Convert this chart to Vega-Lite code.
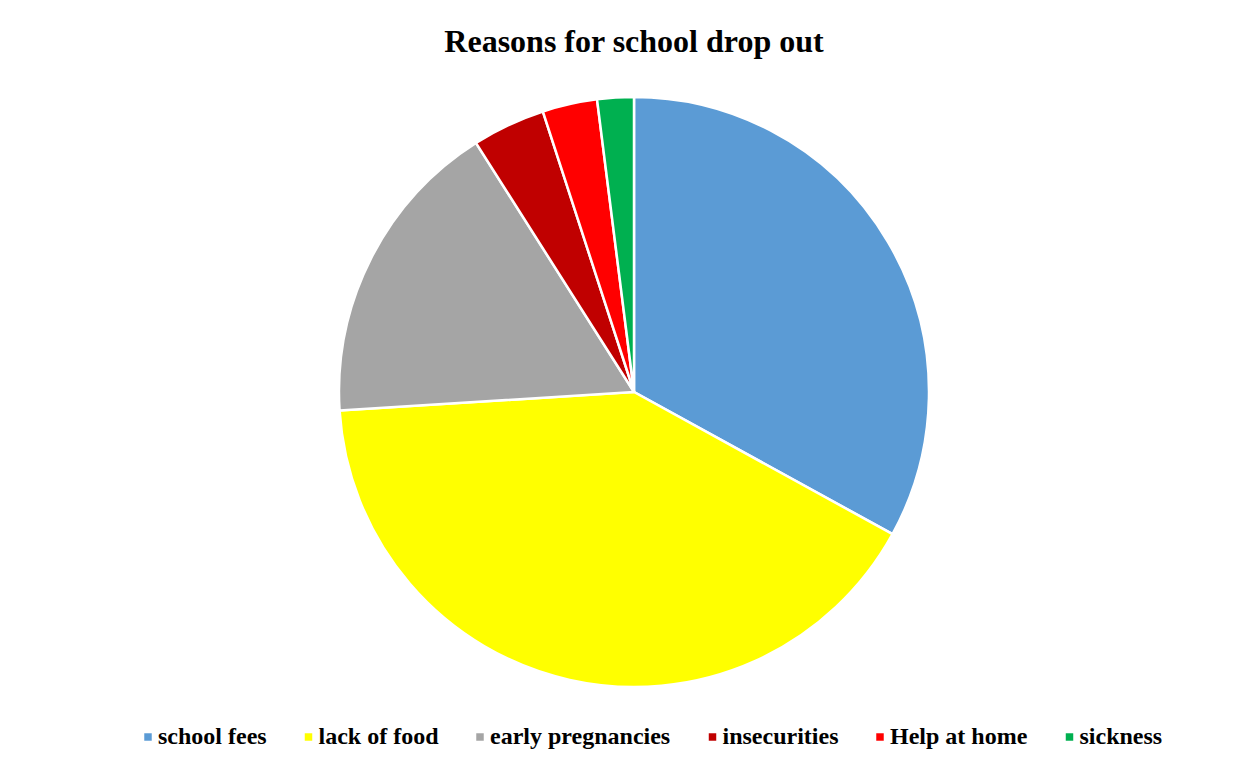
{
  "$schema": "https://vega.github.io/schema/vega-lite/v6.json",
  "autosize": {"type": "none"},
  "width": 1242,
  "height": 644,
  "padding": {"left": 13, "top": 70, "right": 0, "bottom": 58},
  "background": "white",
  "title": {
    "text": "Reasons for school drop out",
    "font": "Liberation Serif",
    "fontSize": 32,
    "fontWeight": "bold",
    "color": "black",
    "anchor": "middle",
    "baseline": "alphabetic",
    "offset": -14
  },
  "data": {
    "values": [
      {"reason": "school fees", "percent": 33, "rank": 1},
      {"reason": "lack of food", "percent": 41, "rank": 2},
      {"reason": "early pregnancies", "percent": 17, "rank": 3},
      {"reason": "insecurities", "percent": 4, "rank": 4},
      {"reason": "Help at home", "percent": 3, "rank": 5},
      {"reason": "sickness", "percent": 2, "rank": 6}
    ]
  },
  "mark": {"type": "arc", "outerRadius": 295, "stroke": "white", "strokeWidth": 2.5},
  "encoding": {
    "theta": {"field": "percent", "type": "quantitative", "stack": true},
    "order": {"field": "rank", "type": "quantitative"},
    "color": {
      "field": "reason",
      "type": "nominal",
      "sort": ["school fees", "lack of food", "early pregnancies", "insecurities", "Help at home", "sickness"],
      "scale": {
        "domain": ["school fees", "lack of food", "early pregnancies", "insecurities", "Help at home", "sickness"],
        "range": ["#5B9BD5", "#FFFF00", "#A5A5A5", "#C00000", "#FF0000", "#00B050"]
      },
      "legend": {
        "title": null,
        "orient": "none",
        "direction": "horizontal",
        "legendX": 123,
        "legendY": 655,
        "padding": 0,
        "symbolType": "square",
        "symbolSize": 56,
        "symbolStrokeWidth": 0,
        "labelOffset": -2,
        "columnPadding": 29.5,
        "labelFont": "Liberation Serif",
        "labelFontSize": 24,
        "labelFontWeight": "bold",
        "labelColor": "black",
        "labelLimit": 0
      }
    }
  },
  "config": {"view": {"stroke": null}}
}
